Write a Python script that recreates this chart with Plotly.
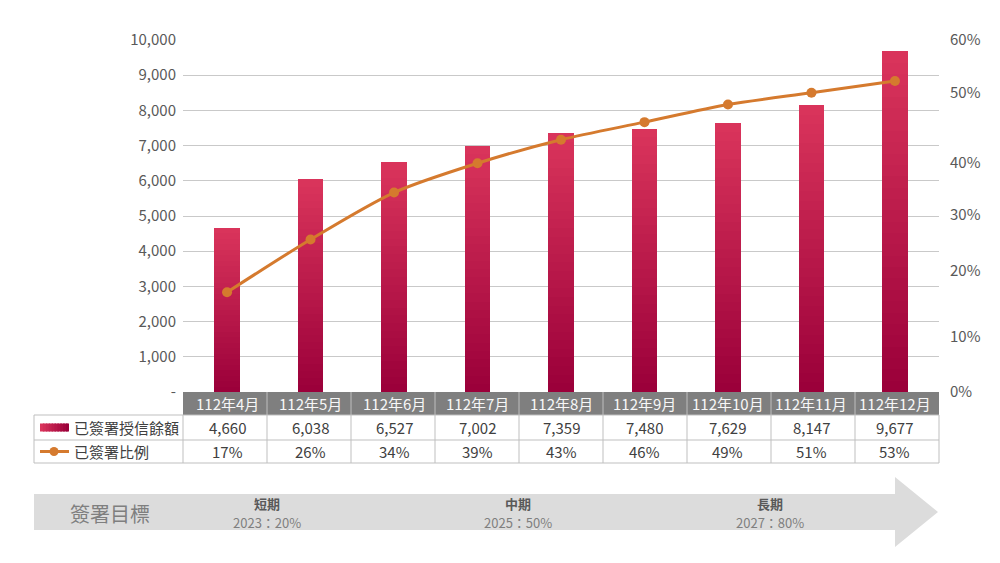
import plotly.graph_objects as go

# ---------------- data ----------------
categories = ["112年4月", "112年5月", "112年6月", "112年7月", "112年8月",
              "112年9月", "112年10月", "112年11月", "112年12月"]
signed_balance = [4660, 6038, 6527, 7002, 7359, 7480, 7629, 8147, 9677]
signed_ratio = [17, 26, 34, 39, 43, 46, 49, 51, 53]
bar_name = "已簽署授信餘額"
line_name = "已簽署比例"
left_ticks = [0, 1000, 2000, 3000, 4000, 5000, 6000, 7000, 8000, 9000, 10000]
left_ticktext = ["-", "1,000", "2,000", "3,000", "4,000", "5,000", "6,000",
                 "7,000", "8,000", "9,000", "10,000"]
right_tickvals = [0, 9.4, 20.7, 30.2, 39.0, 51.0, 60]
right_ticktext = ["0%", "10%", "20%", "30%", "40%", "50%", "60%"]
goal_title = "簽署目標"
goal_terms = ["短期", "中期", "長期"]
goal_targets = ["2023：20%", "2025：50%", "2027：80%"]

FONT = "Noto Sans CJK TC, Noto Sans, sans-serif"
TOP_C = (217, 52, 91)
BOT_C = (155, 0, 58)
LINE_C = "#d57a2e"
GRID_C = "#c9c9c9"
TXT_C = "#404040"

# plot area in pixels
L, R, T, B = 183, 939, 40, 392
W_PX, H_PX = R - L, B - T


def px(xp):
    return (xp - L) / W_PX


def py(yp):
    return (B - yp) / H_PX


def mix(c1, c2, t):
    return "rgb(%d,%d,%d)" % tuple(round(a + (b - a) * t) for a, b in zip(c1, c2))


fig = go.Figure()

# gradient bars: stacked slices of each bar (bottom dark -> top bright)
N = 30
for i in range(N):
    fig.add_trace(go.Bar(
        x=categories, y=[v / N for v in signed_balance],
        marker=dict(color=mix(BOT_C, TOP_C, i / (N - 1)), line=dict(width=0)),
        showlegend=False, hoverinfo="skip", name=bar_name,
    ))

fig.add_trace(go.Scatter(
    x=categories, y=signed_ratio, yaxis="y2", mode="lines+markers",
    line=dict(color=LINE_C, width=3, shape="spline", smoothing=0.8),
    marker=dict(color=LINE_C, size=10),
    showlegend=False, name=line_name,
))

shapes = []
annotations = []


def note(x, y, text, size, color, xref="paper", xanchor="center"):
    annotations.append(dict(x=x, xref=xref, y=y, yref="paper", text=text,
                            showarrow=False, xanchor=xanchor, yanchor="middle",
                            font=dict(family=FONT, size=size, color=color)))


# ---------- table ----------
rows_y = [392, 415, 440, 463]
n = len(categories)
shapes.append(dict(type="rect", xref="paper", yref="paper", x0=0, x1=1,
                   y0=py(rows_y[1]), y1=py(rows_y[0]), fillcolor="#7f7f7f",
                   line=dict(width=0), layer="above"))
for i in range(1, n):
    shapes.append(dict(type="line", xref="paper", yref="paper", x0=i / n, x1=i / n,
                       y0=py(rows_y[1]), y1=py(rows_y[0]),
                       line=dict(color="#bfbfbf", width=1)))
for yy in rows_y[1:]:
    shapes.append(dict(type="line", xref="paper", yref="paper", x0=px(34), x1=1,
                       y0=py(yy), y1=py(yy), line=dict(color="#bfbfbf", width=1)))
for xx in [px(34)] + [i / n for i in range(n + 1)]:
    shapes.append(dict(type="line", xref="paper", yref="paper", x0=xx, x1=xx,
                       y0=py(rows_y[3]), y1=py(rows_y[1]),
                       line=dict(color="#bfbfbf", width=1)))

for c, v, r in zip(categories, signed_balance, signed_ratio):
    note(c, py((rows_y[0] + rows_y[1]) / 2), c, 15, "#f7f7f7", xref="x")
    note(c, py((rows_y[1] + rows_y[2]) / 2), f"{v:,}", 15, TXT_C, xref="x")
    note(c, py((rows_y[2] + rows_y[3]) / 2), f"{r}%", 15, TXT_C, xref="x")

# legend symbols in table
ym1 = (rows_y[1] + rows_y[2]) / 2
ym2 = (rows_y[2] + rows_y[3]) / 2
K = 10
for k in range(K):
    x0 = 40 + 29 * k / K
    x1 = 40 + 29 * (k + 1) / K + (1.5 if k < K - 1 else 0)
    shapes.append(dict(type="rect", xref="paper", yref="paper", x0=px(x0), x1=px(x1),
                       y0=py(ym1 + 4), y1=py(ym1 - 4),
                       fillcolor=mix(TOP_C, BOT_C, k / (K - 1)), line=dict(width=0)))
shapes.append(dict(type="line", xref="paper", yref="paper", x0=px(40), x1=px(69),
                   y0=py(ym2), y1=py(ym2), line=dict(color=LINE_C, width=3)))
shapes.append(dict(type="circle", xref="paper", yref="paper", x0=px(49.5), x1=px(58.5),
                   y0=py(ym2 + 4.5), y1=py(ym2 - 4.5), fillcolor=LINE_C,
                   line=dict(width=0)))
note(px(72), py(ym1), bar_name, 15, TXT_C, xanchor="left")
note(px(72), py(ym2), line_name, 15, TXT_C, xanchor="left")

# ---------- goal arrow ----------
pts = [(34, 494), (895, 494), (895, 477), (938, 512), (895, 547), (895, 530), (34, 530)]
path = "M " + " L ".join(f"{px(a):.5f},{py(b):.5f}" for a, b in pts) + " Z"
shapes.append(dict(type="path", xref="paper", yref="paper", path=path,
                   fillcolor="#dcdcdc", line=dict(width=0)))
note(px(110), py(513), goal_title, 20, "#7f7f7f")
for xc, term, tgt in zip([267, 518, 770], goal_terms, goal_targets):
    note(px(xc), py(503), f"<b>{term}</b>", 13, "#595959")
    note(px(xc), py(522), tgt, 13, "#7f7f7f")

fig.update_layout(
    width=1000, height=563,
    margin=dict(l=L, r=1000 - R, t=T, b=563 - B, pad=0),
    paper_bgcolor="white", plot_bgcolor="white",
    barmode="stack", bargap=0.694,
    font=dict(family=FONT, size=15, color="#595959"),
    hovermode=False,
    xaxis=dict(showticklabels=False, showgrid=False, zeroline=False, showline=False,
               ticks=""),
    yaxis=dict(range=[0, 10000], tickvals=left_ticks, ticktext=left_ticktext,
               showgrid=True, gridcolor=GRID_C, gridwidth=1, zeroline=False,
               showline=False, ticks="", ticklabelstandoff=6,
               tickfont=dict(family=FONT, size=15, color="#595959")),
    yaxis2=dict(range=[0, 60], overlaying="y", side="right", tickvals=right_tickvals,
                ticktext=right_ticktext, showgrid=False, zeroline=False, showline=False,
                ticks="", ticklabelstandoff=10,
                tickfont=dict(family=FONT, size=15, color="#595959")),
    shapes=shapes, annotations=annotations,
)

fig.write_html("out.html", config={"displayModeBar": False},
               post_script="document.body.style.margin='0';")
